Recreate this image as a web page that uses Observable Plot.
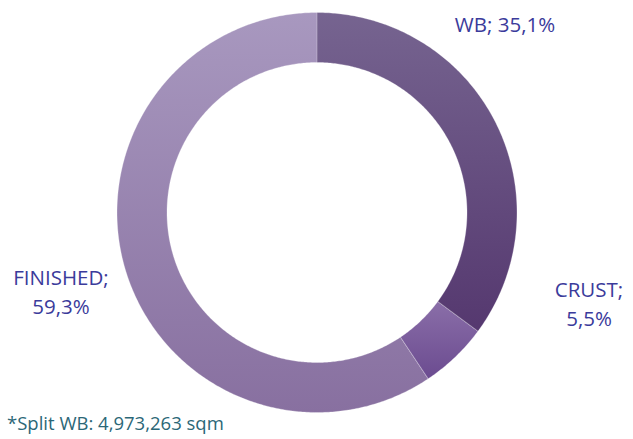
<!DOCTYPE html>
<html>
<head>
<meta charset="utf-8">
<script src="https://cdn.jsdelivr.net/npm/d3@7"></script>
<script src="https://cdn.jsdelivr.net/npm/@observablehq/plot@0.6"></script>
<style>
  html, body { margin: 0; padding: 0; background: #fff; }
  #chart svg { display: block; }
</style>
</head>
<body>
<div id="chart"></div>
<script>
// ---- data ----
const categories = ["WB", "CRUST", "FINISHED"];
const shares = [35.1, 5.5, 59.3];
const labelsText = ["WB; 35,1%", "CRUST;\n5,5%", "FINISHED;\n59,3%"];
const footnote = "*Split WB: 4,973,263 sqm";

// ---- styles ----
const gradTop = ["#766490", "#8a6ea8", "#a898bf"];
const gradBottom = ["#55386f", "#6b4b90", "#8870a0"];
const labelColor = "#3b3b9b";
const noteColor = "#2b6777";
const innerRatio = 0.75;
// label anchor positions in chart units (radius = 1, y downward), layout only
const labelPos = [[0.94, -0.95], [1.36, 0.45], [-1.28, 0.39]];

// ---- geometry from data (y grows downward) ----
const pie = d3.pie().sort(null).value(d => d)(shares);
function sector(a0, a1, r0, r1) {
  const n = Math.max(8, Math.ceil((a1 - a0) / 0.01));
  const ring = [];
  for (let i = 0; i <= n; i++) {
    const a = a0 + (a1 - a0) * i / n;
    ring.push([r1 * Math.sin(a), -r1 * Math.cos(a)]);
  }
  for (let i = n; i >= 0; i--) {
    const a = a0 + (a1 - a0) * i / n;
    ring.push([r0 * Math.sin(a), -r0 * Math.cos(a)]);
  }
  ring.push(ring[0]);
  return {type: "Feature", properties: {}, geometry: {type: "Polygon", coordinates: [ring]}};
}
const features = pie.map(p => sector(p.startAngle, p.endAngle, innerRatio, 1));

const labelData = categories.map((c, i) => ({
  x: labelPos[i][0], y: labelPos[i][1], text: labelsText[i]
}));

// gradient defs mark
function defsMark() {
  const g = d3.create("svg:g");
  const defs = g.append("defs");
  categories.forEach((c, i) => {
    const lg = defs.append("linearGradient")
      .attr("id", "grad" + i)
      .attr("x1", 0).attr("y1", 0).attr("x2", 0).attr("y2", 1);
    lg.append("stop").attr("offset", "0%").attr("stop-color", gradTop[i]);
    lg.append("stop").attr("offset", "100%").attr("stop-color", gradBottom[i]);
  });
  return g.node();
}

const plot = Plot.plot({
  width: 633,
  height: 439,
  marginTop: 12,
  marginBottom: 27,
  marginLeft: 116.5,
  marginRight: 116.5,
  projection: {
    type: "identity",
    clip: false,
    domain: {type: "MultiPoint", coordinates: [[-1, -1], [1, 1]]}
  },
  style: {fontFamily: "'Open Sans', sans-serif", background: "#fff"},
  marks: [
    defsMark,
    ...features.map((f, i) =>
      Plot.geo([f], {fill: `url(#grad${i})`, stroke: "#ffffff", strokeOpacity: 0.35, strokeWidth: 0.8})
    ),
    Plot.text(labelData, {
      x: "x", y: "y", text: "text", clip: false,
      fill: labelColor, fontSize: 20.5, lineHeight: 1.37, textAnchor: "middle"
    }),
    Plot.text([footnote], {
      frameAnchor: "bottom-left", text: d => d,
      dx: -110, dy: 17, fill: noteColor, fontSize: 18.5, textAnchor: "start"
    })
  ]
});
document.getElementById("chart").appendChild(plot);
</script>
</body>
</html>
